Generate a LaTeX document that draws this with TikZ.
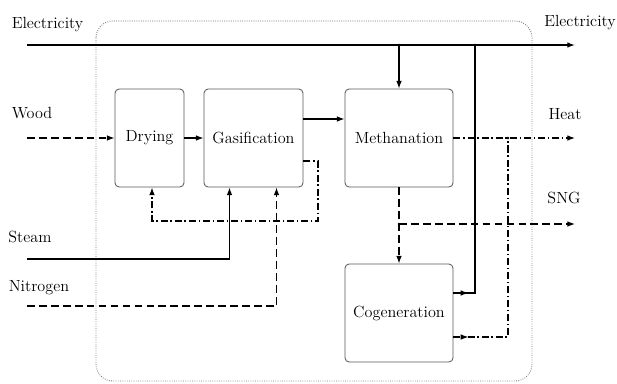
\documentclass[tikz,border=0pt]{standalone}
\usepackage{amsmath,amssymb}
\usepackage{xcolor}
\usetikzlibrary{arrows.meta}

\tikzset{
  unit/.style={draw=black!65,line width=0.6pt,rounded corners=3pt,align=center,font=\fontsize{11.5}{13}\selectfont},
  lbl/.style={font=\fontsize{11.5}{13}\selectfont,inner sep=0pt},
  flow/.style={line width=0.8pt,-{Latex[length=5.5pt,width=4pt]}},
  noarr/.style={line width=0.8pt},
  dsh/.style={dash pattern=on 5.5pt off 3pt},
  dsdt/.style={dash pattern=on 5pt off 2pt on 1pt off 2pt},
  jdot/.style={circle,fill=black,inner sep=0pt,minimum size=2pt}
}

\begin{document}
\begin{tikzpicture}[x=0.025cm,y=-0.025cm]
    \useasboundingbox (0,0) rectangle (617,383);
    \draw[black!55,densely dotted,line width=0.6pt,rounded corners=12pt] (96,21) rectangle (532,381);
    % units
    \node[unit,minimum width=1.725cm,minimum height=2.45cm] (dry) at (149.5,138) {Drying};
    \node[unit,minimum width=2.475cm,minimum height=2.45cm] (gas) at (253.5,138) {Gasification};
    \node[unit,minimum width=2.7cm,minimum height=2.45cm] (meth) at (399,138) {Methanation};
    \node[unit,minimum width=2.7cm,minimum height=2.45cm] (cogen) at (399,313) {Cogeneration};
    % streams in and out
    \coordinate (elecIn) at (27,45);  \coordinate (elecOut) at (575,45);
    \coordinate (woodIn) at (27,138); \coordinate (heatOut) at (575,138);
    \coordinate (sngOut) at (575,224); \coordinate (steamIn) at (27,259);
    \coordinate (nitroIn) at (27,306);
    \coordinate (elecJ) at (475,45); \coordinate (heatJ) at (508,138);
    \coordinate (sngJ) at (399,224); \coordinate (loopC) at (318,221);
    \node[lbl] (elecL) at (47.5,25) {Electricity};
    \node[lbl] (elecR) at (580,23) {Electricity};
    \node[lbl] (woodL) at (32,113) {Wood};
    \node[lbl] (heatL) at (565,114) {Heat};
    \node[lbl] (sngL) at (564,198) {SNG};
    \node[lbl] (steamL) at (30,237) {Steam};
    \node[lbl] (nitroL) at (39,288) {Nitrogen};
    % electricity
    \draw[flow,line width=1pt] (elecIn) -- (elecOut);
    \draw[flow] (meth.north |- elecIn) -- (meth.north);
    \draw[flow] ([yshift=0.5cm]cogen.east) -- ++(15,0);
    \draw[noarr] ([yshift=0.5cm]cogen.east) -| (elecJ);
    % solids and gas
    \draw[flow,dsh] (woodIn) -- (dry.west);
    \draw[flow] (dry) -- (gas);
    \draw[flow] ([yshift=0.475cm]gas.east) coordinate (gasOut) -- (gasOut -| meth.west);
    \draw[flow] (steamIn) -| ([xshift=-0.6cm]gas.south);
    \draw[flow,dsh] (nitroIn) -| ([xshift=0.575cm]gas.south);
    \draw[flow,dsdt] ([yshift=-0.575cm]gas.east) -| (loopC) -| ([xshift=0.0625cm]dry.south);
    % heat
    \draw[flow,dsdt] (meth.east) -- (heatOut);
    \draw[flow,dsdt] ([yshift=-0.6cm]cogen.east) -- ++(15,0);
    \draw[noarr,dsdt] ([yshift=-0.6cm]cogen.east) -| (heatJ);
    % SNG
    \draw[flow,dsh] (meth.south) -- (cogen.north);
    \draw[flow,dsh] (sngJ) -- (sngOut);
    \node[jdot] at (meth.north |- elecIn) {};
    \node[jdot] at (elecJ) {};
    \node[jdot] at (heatJ) {};
    \node[jdot] at (sngJ) {};
\end{tikzpicture}
\end{document}
